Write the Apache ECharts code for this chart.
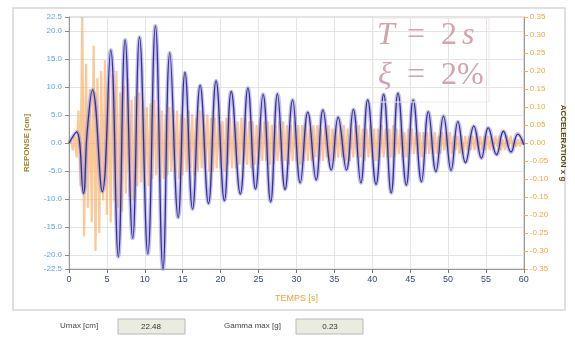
<!DOCTYPE html>
<html><head><meta charset="utf-8">
<script src="https://cdn.jsdelivr.net/npm/echarts@6/dist/echarts.min.js"></script>
<style>html,body{margin:0;padding:0;background:#fff}#c{width:575px;height:337px}</style>
</head><body><div id="c"></div>
<script>
// Response (cm): extremum times (s) and values
const respTime = [0, 1.0, 1.9, 2.4, 3.1, 4.4, 5.5, 6.5, 7.4, 8.4, 9.3, 10.4, 11.4, 12.4, 13.3, 14.4, 15.3, 16.3, 17.3, 18.4, 19.4, 20.5, 21.4, 22.6, 23.6, 24.6, 25.6, 26.6, 27.5, 28.5, 29.5, 30.5, 31.5, 32.6, 33.5, 34.6, 35.5, 36.6, 37.5, 38.5, 39.4, 40.5, 41.5, 42.5, 43.4, 44.5, 45.4, 46.5, 47.4, 48.4, 49.4, 50.4, 51.3, 52.3, 53.4, 54.4, 55.3, 56.4, 57.3, 58.3, 59.2, 60];
const respValue = [0, 2.0, -9.0, 2.0, 9.5, -8.7, 16.6, -20.3, 18.4, -17.0, 18.9, -19.8, 20.9, -22.48, 16.1, -13.3, 12.6, -11.8, 10.3, -10.8, 11.1, -10.3, 9.2, -9.1, 9.8, -8.2, 8.7, -10.5, 8.75, -8.3, 7.7, -7.1, 5.5, -6.6, 5.9, -4.8, 4.6, -4.8, 6.0, -7.1, 7.7, -7.4, 8.7, -8.9, 8.9, -7.5, 7.7, -6.9, 5.6, -5.1, 4.8, -4.9, 3.8, -3.5, 3.0, -2.7, 2.7, -2.1, 2.1, -1.6, 1.6, -0.3];

// Ground acceleration (g), sampled every 0.25 s
const accStep = 0.25;
const accValue = [
 0, 0.01, -0.02, 0.02,
 -0.04, 0.09, -0.12, 0.35,
 -0.26, 0.22, -0.18, 0.15,
 -0.22, 0.27, -0.30, 0.18,
 -0.25, 0.20, -0.16, 0.23,
 -0.20, 0.17, -0.22, 0.19,
 -0.16, 0.20, -0.18, 0.14,
 -0.19, 0.16, -0.14, 0.18,
 -0.15, 0.12, -0.16, 0.13,
 -0.12, 0.14, -0.11, 0.12,
 -0.13, 0.10, -0.12, 0.11,
 -0.10, 0.12, -0.09, 0.10,
 -0.11, 0.09, -0.10, 0.08,
 -0.09, 0.10, -0.08, 0.09,
 -0.08, 0.09, -0.10, 0.08,
 -0.09, 0.07, -0.08, 0.09,
 -0.07, 0.08, -0.09, 0.07,
 -0.08, 0.09, -0.07, 0.08,
 -0.07, 0.08, -0.08, 0.07,
 -0.08, 0.07, -0.07, 0.08,
 -0.07, 0.06, -0.08, 0.07,
 -0.06, 0.07, -0.07, 0.06,
 -0.07, 0.06, -0.06, 0.07,
 -0.06, 0.07, -0.06, 0.06,
 -0.07, 0.06, -0.06, 0.05,
 -0.06, 0.07, -0.05, 0.06,
 -0.05, 0.06, -0.06, 0.05,
 -0.06, 0.05, -0.05, 0.06,
 -0.05, 0.06, -0.05, 0.05,
 -0.06, 0.05, -0.05, 0.06,
 -0.05, 0.05, -0.06, 0.05,
 -0.05, 0.06, -0.05, 0.04,
 -0.05, 0.05, -0.04, 0.05,
 -0.05, 0.04, -0.05, 0.05,
 -0.04, 0.05, -0.05, 0.04,
 -0.05, 0.04, -0.04, 0.05,
 -0.04, 0.05, -0.05, 0.04,
 -0.05, 0.04, -0.04, 0.05,
 -0.04, 0.05, -0.04, 0.04,
 -0.05, 0.04, -0.04, 0.05,
 -0.04, 0.04, -0.05, 0.04,
 -0.04, 0.05, -0.04, 0.04,
 -0.04, 0.04, -0.04, 0.05,
 -0.04, 0.04, -0.03, 0.04,
 -0.04, 0.03, -0.04, 0.04,
 -0.03, 0.04, -0.03, 0.03,
 -0.03, 0.03, -0.04, 0.03,
 -0.03, 0.03, -0.03, 0.03,
 -0.03, 0.03, -0.03, 0.02,
 -0.03, 0.03, -0.02, 0.03,
 -0.02, 0.03, -0.03, 0.02,
 -0.02, 0.02, -0.03, 0.02,
 -0.03, 0.02, -0.02, 0.02,
 -0.02, 0.02, -0.02, 0.03,
 -0.02, 0.02, -0.02, 0.02,
 -0.02, 0.02, -0.02, 0.02,
 -0.02, 0.02, -0.01, 0.02,
 -0.02, 0.01, -0.02, 0.02,
 -0.01, 0.02, -0.01, 0.01,
 -0.01, 0.01, -0.01, 0.01,
 0
];

const leftTicks = [-22.5, -20, -15, -10, -5, 0, 5, 10, 15, 20, 22.5];
const umaxText = '22.48';
const gmaxText = '0.23';

const respData = respTime.map((t, i) => [t, respValue[i]]);
const accData = accValue.map((v, i) => [i * accStep, v]);

const pink = '#d3a4ab';
const mathFont = '"Liberation Serif"';
function mtext(str, x, y, italic) {
  return {type: 'text', x: x, y: y, z: 10, style: {text: str, fill: pink,
    font: (italic ? 'italic ' : '') + '32px ' + mathFont, verticalAlign: 'top'}};
}

const chart = echarts.init(document.getElementById('c'), null, {renderer: 'canvas'});
chart.setOption({
  animation: false,
  backgroundColor: '#fff',
  grid: {left: 69, right: 48, top: 17, bottom: 68, show: true, borderColor: '#c8c8c8', borderWidth: 1},
  xAxis: {
    type: 'value', min: 0, max: 60, interval: 5,
    name: 'TEMPS [s]', nameLocation: 'middle', nameGap: 25,
    nameTextStyle: {color: '#f0a030', fontSize: 9, fontFamily: 'Liberation Sans'},
    axisLine: {show: true, onZero: false, lineStyle: {color: '#999'}},
    axisTick: {show: true, length: 4, lineStyle: {color: '#777'}},
    axisLabel: {color: '#3a4a6a', fontSize: 9, margin: 6, fontFamily: 'Liberation Sans'},
    splitLine: {show: true, lineStyle: {color: '#e4e4e4'}}
  },
  yAxis: [{
    type: 'value', min: -22.5, max: 22.5, interval: 2.5, position: 'left',
    name: 'REPONSE [cm]', nameLocation: 'middle', nameGap: 38,
    nameTextStyle: {color: '#9c8a2c', fontSize: 8, fontWeight: 'bold', fontFamily: 'Liberation Sans'},
    axisLine: {show: true, onZero: false, lineStyle: {color: '#999'}},
    axisTick: {show: true, length: 4, customValues: leftTicks, lineStyle: {color: '#888'}},
    axisLabel: {color: '#5fa4d8', fontSize: 8, margin: 7, customValues: leftTicks,
      formatter: v => v.toFixed(1), fontFamily: 'Liberation Sans'},
    splitLine: {show: true, lineStyle: {color: '#e4e4e4'}}
  }, {
    type: 'value', min: -0.35, max: 0.35, interval: 0.05, position: 'right',
    name: 'ACCELERATION x g', nameLocation: 'middle', nameGap: 35, nameRotate: -90,
    nameTextStyle: {color: '#5a4c18', fontSize: 8, fontWeight: 'bold', fontFamily: 'Liberation Sans'},
    axisLine: {show: true, onZero: false, lineStyle: {color: '#999'}},
    axisTick: {show: true, length: 4, lineStyle: {color: '#e8b040'}},
    axisLabel: {color: '#e9a93a', fontSize: 8, margin: 6,
      formatter: v => (Math.round(v * 100) / 100).toFixed(2), fontFamily: 'Liberation Sans'},
    splitLine: {show: false}
  }],
  series: [{
    type: 'line', yAxisIndex: 1, data: accData, showSymbol: false,
    lineStyle: {color: 'rgba(248,178,105,0.7)', width: 2.2}, z: 1
  }, {
    type: 'line', yAxisIndex: 0, data: respData, showSymbol: false, smooth: 0.45,
    lineStyle: {color: 'rgba(140,130,225,0.5)', width: 4}, z: 2
  }, {
    type: 'line', yAxisIndex: 0, data: respData, showSymbol: false, smooth: 0.45,
    lineStyle: {color: '#33308f', width: 1.3}, z: 3
  }],
  graphic: [
    {type: 'rect', shape: {x: 13, y: 8, width: 552, height: 302}, style: {fill: 'none', stroke: '#d6d6d6', lineWidth: 1.5}, z: -1},
    {type: 'rect', shape: {x: 373, y: 18, width: 116, height: 84}, style: {fill: 'none', stroke: '#f3e4e6', lineWidth: 1}, z: 5},
    mtext('T', 377, 20, true), mtext('=', 407, 20, false), mtext('2', 441, 20, false), mtext('s', 462, 20, true),
    mtext('ξ', 378, 60, true), mtext('=', 407, 60, false), mtext('2%', 441, 60, false),
    {type: 'text', left: 60, top: 322, style: {text: 'Umax [cm]', fill: '#444', font: '8px "Liberation Sans"'}},
    {type: 'rect', shape: {x: 118, y: 319, width: 67, height: 15}, style: {fill: '#e9ecdf', stroke: '#b8b8b8', lineWidth: 1}},
    {type: 'text', x: 151, y: 327, style: {text: umaxText, fill: '#333', font: '8px "Liberation Sans"', align: 'center', verticalAlign: 'middle'}},
    {type: 'text', left: 224, top: 322, style: {text: 'Gamma max [g]', fill: '#444', font: '8px "Liberation Sans"'}},
    {type: 'rect', shape: {x: 296, y: 319, width: 67, height: 15}, style: {fill: '#e9ecdf', stroke: '#b8b8b8', lineWidth: 1}},
    {type: 'text', x: 330, y: 327, style: {text: gmaxText, fill: '#333', font: '8px "Liberation Sans"', align: 'center', verticalAlign: 'middle'}}
  ]
});
</script></body></html>
